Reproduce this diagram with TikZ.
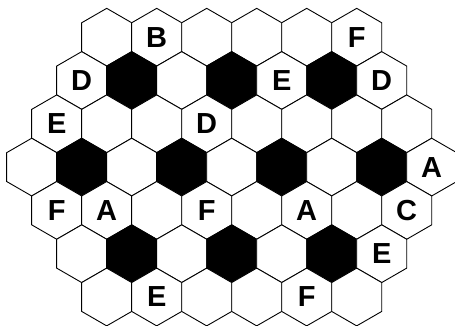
\documentclass[tikz,border=0pt]{standalone}
\usepackage{fontspec}
\setmainfont{Liberation Sans}
\usetikzlibrary{shapes.geometric}
\tikzset{
  hex/.style={draw=black, regular polygon, regular polygon sides=6,
    shape border rotate=30, minimum size=57.74pt, inner sep=0pt,
    outer sep=0pt, line width=0.9pt, line join=miter,
    font=\bfseries\fontsize{29}{29}\selectfont},
  w/.style={fill=white},
  k/.style={fill=black}
}
\begin{document}
\begin{tikzpicture}[x=1pt,y=-1pt]
\useasboundingbox (0,0) rectangle (455,326);
\clip (0,0) rectangle (455,326);
% row 1
\foreach \s/\lab [count=\k from 0] in {w/,w/B,w/,w/,w/,w/F}
  \node[hex,\s] (h1-\k) at ({106.7+50*\k},37.2) {\lab};
% row 2
\foreach \s/\lab [count=\k from 0] in {w/D,k/,w/,k/,w/E,k/,w/D}
  \node[hex,\s] (h2-\k) at ({81.7+50*\k},80.5) {\lab};
% row 3
\foreach \s/\lab [count=\k from 0] in {w/E,w/,w/,w/D,w/,w/,w/,w/}
  \node[hex,\s] (h3-\k) at ({56.7+50*\k},123.8) {\lab};
% row 4
\foreach \s/\lab [count=\k from 0] in {w/,k/,w/,k/,w/,k/,w/,k/,w/A}
  \node[hex,\s] (h4-\k) at ({31.7+50*\k},167.1) {\lab};
% row 5
\foreach \s/\lab [count=\k from 0] in {w/F,w/A,w/,w/F,w/,w/A,w/,w/C}
  \node[hex,\s] (h5-\k) at ({56.7+50*\k},210.4) {\lab};
% row 6
\foreach \s/\lab [count=\k from 0] in {w/,k/,w/,k/,w/,k/,w/E}
  \node[hex,\s] (h6-\k) at ({81.7+50*\k},253.7) {\lab};
% row 7
\foreach \s/\lab [count=\k from 0] in {w/,w/E,w/,w/,w/F,w/}
  \node[hex,\s] (h7-\k) at ({106.7+50*\k},297.0) {\lab};
\end{tikzpicture}
\end{document}
